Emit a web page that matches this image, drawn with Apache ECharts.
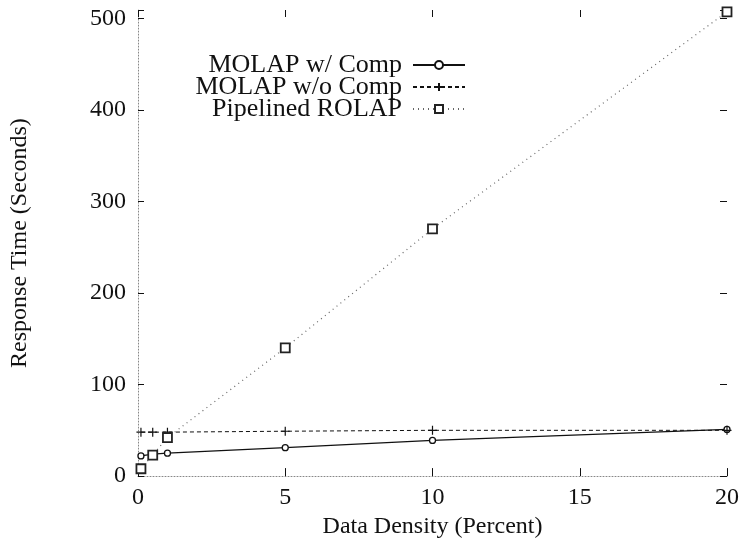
<!DOCTYPE html>
<html>
<head>
<meta charset="utf-8">
<script src="https://cdn.jsdelivr.net/npm/echarts@6/dist/echarts.min.js"></script>
<style>
  html, body { margin: 0; padding: 0; background: #fff; }
  #chart { width: 742px; height: 544px; }
</style>
</head>
<body>
<div id="chart"></div>
<script>
// data density (percent)
const densities = [0.1, 0.5, 1, 5, 10, 20]
const molapComp = [22, 24, 25, 31, 39, 51]
const molapNoComp = [48, 48, 48, 49, 50, 50]
const rolap = [8, 23, 42, 140, 270, 507]
const yTicks = [0, 100, 200, 300, 400, 500]

const font = 'Liberation Serif'
const pairs = vals => densities.map((d, i) => [d, vals[i]])

const chart = echarts.init(document.getElementById('chart'))
const option = {
  animation: false,
  backgroundColor: '#fff',
  textStyle: { fontFamily: font },
  grid: { left: 135, right: 12, top: 10, bottom: 63 },
  legend: {
    orient: 'vertical',
    right: 271,
    top: 47,
    align: 'right',
    itemWidth: 52,
    itemHeight: 10,
    itemGap: -4,
    textStyle: { fontFamily: font, fontSize: 26, color: '#111', padding: [0, 6, 0, 0] },
    data: ['MOLAP w/ Comp', 'MOLAP w/o Comp', 'Pipelined ROLAP']
  },
  xAxis: [{
    type: 'value',
    min: 0,
    max: 20,
    interval: 5,
    name: 'Data Density (Percent)',
    nameLocation: 'middle',
    nameGap: 26,
    nameTextStyle: { fontFamily: font, fontSize: 24, color: '#111', verticalAlign: 'top' },
    splitLine: { show: false },
    axisLine: { onZero: false, lineStyle: { color: '#888', type: [1, 2], width: 1 } },
    axisTick: { inside: true, length: 8, lineStyle: { color: '#111' } },
    axisLabel: { fontFamily: font, fontSize: 24, color: '#111', margin: 10 }
  }, {
    type: 'value',
    position: 'top',
    min: 0,
    max: 20,
    interval: 5,
    splitLine: { show: false },
    axisLine: { show: false, onZero: false },
    axisTick: { inside: true, length: 7, lineStyle: { color: '#111' } },
    axisLabel: { show: false }
  }],
  yAxis: [{
    type: 'value',
    min: 0,
    max: 509,
    interval: 100,
    name: 'Response Time (Seconds)',
    nameLocation: 'middle',
    nameGap: 106,
    nameTextStyle: { fontFamily: font, fontSize: 24, color: '#111' },
    splitLine: { show: false },
    axisLine: { show: true, onZero: false, lineStyle: { color: '#888', type: [1, 2], width: 1 } },
    axisTick: { inside: true, length: 6, lineStyle: { color: '#111' } },
    axisLabel: { fontFamily: font, fontSize: 24, color: '#111', margin: 12, customValues: yTicks }
  }, {
    type: 'value',
    position: 'right',
    min: 0,
    max: 509,
    interval: 100,
    splitLine: { show: false },
    axisLine: { show: false, onZero: false },
    axisTick: { show: true, inside: true, length: 7, lineStyle: { color: '#111' } },
    axisLabel: { show: false }
  }],
  series: [
    {
      name: 'MOLAP w/ Comp',
      type: 'line',
      data: pairs(molapComp),
      symbol: 'circle',
      symbolSize: 6,
      itemStyle: { color: '#fff', borderColor: '#111', borderWidth: 1.3 },
      lineStyle: { color: '#111', width: 1.2 }
    },
    {
      name: 'MOLAP w/o Comp',
      type: 'line',
      data: pairs(molapNoComp),
      symbol: 'path://M0,5L10,5M5,0L5,10',
      symbolSize: 9,
      itemStyle: { color: 'transparent', borderColor: '#111', borderWidth: 1.2 },
      lineStyle: { color: '#111', width: 1, type: [4, 3] }
    },
    {
      name: 'Pipelined ROLAP',
      type: 'line',
      data: pairs(rolap),
      symbol: 'rect',
      symbolSize: 9,
      itemStyle: { color: '#fff', borderColor: '#222', borderWidth: 1.8 },
      lineStyle: { color: '#666', width: 1.2, type: [1, 4] }
    }
  ]
}
chart.setOption(option)
</script>
</body>
</html>
